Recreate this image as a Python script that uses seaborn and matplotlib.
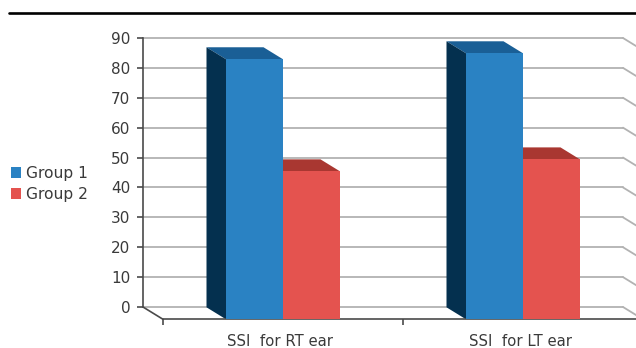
import matplotlib
matplotlib.use("Agg")
import matplotlib.pyplot as plt
import pandas as pd
import seaborn as sns
from matplotlib.lines import Line2D
from matplotlib.patches import Polygon

categories = ["SSI  for RT ear", "SSI  for LT ear"]
group_1 = [87, 89]
group_2 = [49.5, 53.5]
group_names = ["Group 1", "Group 2"]
tick_values = list(range(0, 100, 10))

front_colors = {"Group 1": "#2A82C3", "Group 2": "#E4534F"}
top_colors = ["#1A5F96", "#A93731"]
side_colors = ["#04304F", "#8E2B27"]
grid_color = "#B2B2B2"
axis_color = "#4A4A4A"
text_color = "#3A3A3A"

W, H = 636, 348
DEPTH_X, DEPTH_Y = 19.5, 12.0


def box(left, top, right, bottom):
    # Axes rectangle from pixel edges measured from the top-left corner
    return [left / W, 1 - bottom / H, (right - left) / W, (bottom - top) / H]


sns.set_theme(style="white")
plt.rcParams["font.family"] = ["DejaVu Sans"]
fig = plt.figure(figsize=(W / 100, H / 100), dpi=100, facecolor="white")


def pixel_line(x0, y0, x1, y1, **kw):
    fig.add_artist(Line2D([x0 / W, x1 / W], [1 - y0 / H, 1 - y1 / H],
                          transform=fig.transFigure, **kw))


# Back wall: value axis and horizontal grid
wall = fig.add_axes(box(143, 38, 623, 307))
wall.set_xlim(0, 1)
wall.set_ylim(0, 90)
wall.set_yticks(tick_values)
wall.set_xticks([])
wall.grid(axis="y", color=grid_color, lw=1.3)
for gridline in wall.get_ygridlines():
    gridline.set_clip_on(False)
wall.set_axisbelow(True)
sns.despine(ax=wall, top=True, right=True, bottom=True)
wall.spines["left"].set_color(axis_color)
wall.spines["left"].set_linewidth(1.2)
wall.tick_params(axis="y", left=True, length=4, width=1.2, color=axis_color,
                 labelsize=11, labelcolor=text_color, pad=5)

# Grid lines turn toward the viewer on the right-hand side wall
for v in tick_values:
    y = 307 - v * (307 - 38) / 90
    pixel_line(623, y, 623 + DEPTH_X, y + DEPTH_Y, color=grid_color, lw=1.3)

# Front plane: the bars and the category axis
front = fig.add_axes(box(163, 38, W, 319.3))
front.patch.set_alpha(0)
unit_px = (307 - 38) / 90
category_px = 240

data = pd.DataFrame({
    "category": categories * 2,
    "value": group_1 + group_2,
    "group": [group_names[0]] * 2 + [group_names[1]] * 2,
})
sns.barplot(data=data, x="category", y="value", hue="group",
            palette=front_colors, width=0.475, gap=0, saturation=1,
            dodge=True, ax=front, zorder=3, linewidth=0)
front.set_xlim(-0.5, -0.5 + (W - 163) / category_px)
front.set_ylim(0, (319.3 - 38) / unit_px)

# Extrude each bar back to the wall: a top face and a left side face
dx = DEPTH_X / category_px
dy = DEPTH_Y / unit_px
for i, container in enumerate(front.containers):
    for bar in container:
        x0, x1 = bar.get_x(), bar.get_x() + bar.get_width()
        h = bar.get_height()
        front.add_patch(Polygon([(x0, h), (x1, h), (x1 - dx, h + dy), (x0 - dx, h + dy)],
                                closed=True, fc=top_colors[i], ec="none", zorder=2,
                                clip_on=False))
        front.add_patch(Polygon([(x0, 0), (x0, h), (x0 - dx, h + dy), (x0 - dx, dy)],
                                closed=True, fc=side_colors[i], ec="none", zorder=2.5,
                                clip_on=False))

front.set_xlabel("")
front.set_ylabel("")
front.set_yticks([])
for side in ("top", "right", "left"):
    front.spines[side].set_visible(False)
front.spines["bottom"].set_color(axis_color)
front.spines["bottom"].set_linewidth(1.2)
front.set_xticks([-0.5, 0.5])
front.set_xticklabels([])
front.tick_params(axis="x", which="major", bottom=True, length=4, width=1.2, color=axis_color)
# Category labels sit just left of the bar-pair centres
front.set_xticks([-0.012, 0.988], minor=True)
front.set_xticklabels(categories, minor=True)
front.tick_params(axis="x", which="minor", bottom=False, length=0, labelsize=10.7,
                  labelcolor=text_color, pad=10.5)

# Floor edge joining the wall to the front plane
pixel_line(143, 307, 163, 319.3, color=axis_color, lw=1.2)

# Legend on the left, square swatches
sns.move_legend(front, "upper left", bbox_to_anchor=(-3 / W, 1 - 152 / H),
                bbox_transform=fig.transFigure, title=None, frameon=False,
                fontsize=11.2, labelcolor=text_color, handlelength=0.65, handleheight=0.65,
                handletextpad=0.32, labelspacing=0.38)

# Rule across the top of the figure
pixel_line(9, 13, W, 13, color="black", lw=1.9)

fig.savefig("out.png", dpi=100)
